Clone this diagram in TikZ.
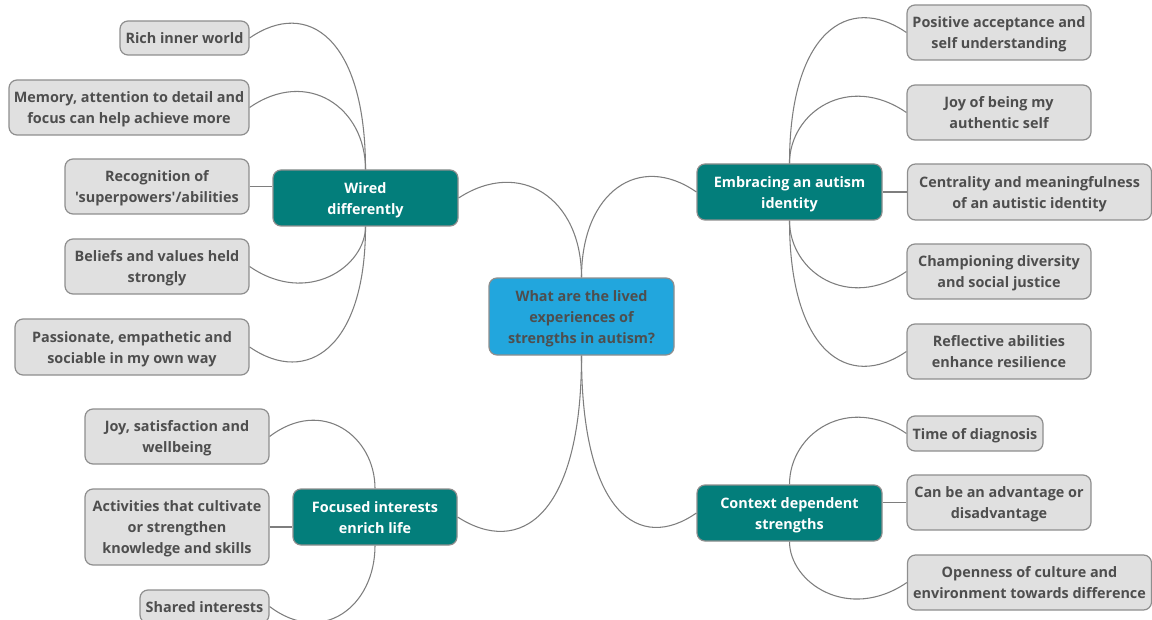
\documentclass[tikz,border=0pt]{standalone}
\usepackage{fontspec}
\setmainfont{Open Sans}[Ligatures=TeXOff]
\usetikzlibrary{calc}
\definecolor{teal1}{HTML}{037E7B}
\definecolor{sky}{HTML}{22A6DD}
\definecolor{leaffill}{HTML}{E0E0E0}
\definecolor{bordergray}{HTML}{8E8E8E}
\definecolor{linegray}{HTML}{7E7E7E}
\definecolor{txtgray}{HTML}{4E4E4E}
\newcommand\mltext[1]{\raisebox{-1.1pt}[\height][\depth]{\begin{tabular}{@{}c@{}}#1\end{tabular}}}
\tikzset{
  base/.style={draw=bordergray, line width=0.9pt, rounded corners=6pt, inner sep=0pt,
    font=\fontsize{10.8pt}{15.75pt}\selectfont\bfseries},
  wh/.style 2 args={minimum width=#1*0.75pt, minimum height=#2*0.75pt},
  leaf/.style={base, fill=leaffill, text=txtgray},
  mainb/.style={base, fill=teal1, text=white},
  root/.style={base, fill=sky, text=txtgray},
  conn/.style={draw=linegray, line width=0.8pt},
}
\newcommand\myconnup[2]{\draw[conn] let \p1=(#1), \p2=(#2) in (\p1) .. controls ({0.5*\x1+0.5*\x2},{\y1+30pt}) and (\x2,\y1) .. (\p2);}
\newcommand\myconndown[2]{\draw[conn] let \p1=(#1), \p2=(#2) in (\p1) .. controls ({0.5*\x1+0.5*\x2},{\y1-30pt}) and (\x2,\y1) .. (\p2);}
\newcommand\myconnhor[2]{\draw[conn] (#1) -- (#1 -| #2);}
\begin{document}
\begin{tikzpicture}[x=0.75pt,y=-0.75pt]
\useasboundingbox (0,0) rectangle (1152,620);
% main nodes
\node[root, wh={185}{77}] (root) at (581.5,316.5) {\mltext{What are the lived\\experiences of\\strengths in autism?}};
\node[mainb, wh={185}{56}] (wired) at (365.5,198) {\mltext{Wired\\differently}};
\node[mainb, wh={185}{56}] (embr) at (789.5,192) {\mltext{Embracing an autism\\identity}};
\node[mainb, wh={164}{56}] (focus) at (375,517) {\mltext{Focused interests\\enrich life}};
\node[mainb, wh={185}{56}] (context) at (789.5,513) {\mltext{Context dependent\\strengths}};
% left leaves
\node[leaf, wh={129}{34}] (rich) at (184.5,38) {\mltext{Rich inner world}};
\node[leaf, wh={240}{55}] (memory) at (129,107.5) {\mltext{Memory, attention to detail and\\focus can help achieve more}};
\node[leaf, wh={184}{55}] (recog) at (157,186.5) {\mltext{Recognition of\\'superpowers'/abilities}};
\node[leaf, wh={184}{55}] (beliefs) at (157,266.5) {\mltext{Beliefs and values held\\strongly}};
\node[leaf, wh={234}{56}] (passion) at (132,347) {\mltext{Passionate, empathetic and\\sociable in my own way}};
\node[leaf, wh={184}{55}] (joy) at (177,436.5) {\mltext{Joy, satisfaction and\\wellbeing}};
\node[leaf, wh={184}{76}] (activ) at (177,527) {\mltext{Activities that cultivate\\or strengthen\\knowledge and skills}};
\node[leaf, wh={129}{33}] (shared) at (204.5,606.5) {\mltext{Shared interests}};
% right leaves
\node[leaf, wh={184}{55}] (posit) at (999,32.5) {\mltext{Positive acceptance and\\self understanding}};
\node[leaf, wh={184}{55}] (authentic) at (999,112.5) {\mltext{Joy of being my\\authentic self}};
\node[leaf, wh={244}{56}] (central) at (1029.5,192) {\mltext{Centrality and meaningfulness\\of an autistic identity}};
\node[leaf, wh={184}{55}] (champ) at (999,271.5) {\mltext{Championing diversity\\and social justice}};
\node[leaf, wh={184}{55}] (reflect) at (999,351.5) {\mltext{Reflective abilities\\enhance resilience}};
\node[leaf, wh={136}{35}] (time) at (975,433.5) {\mltext{Time of diagnosis}};
\node[leaf, wh={184}{55}] (canbe) at (999,502.5) {\mltext{Can be an advantage or\\disadvantage}};
\node[leaf, wh={244}{55}] (open) at (1029.5,582.5) {\mltext{Openness of culture and\\environment towards difference}};
% connectors
\myconnup{wired.east}{root.north}
\myconnup{embr.west}{root.north}
\myconndown{focus.east}{root.south}
\myconndown{context.west}{root.south}
\myconnup{rich.east}{wired.north}
\myconnup{memory.east}{wired.north}
\myconnhor{recog.east}{wired.west}
\myconndown{beliefs.east}{wired.south}
\myconndown{passion.east}{wired.south}
\myconnup{joy.east}{focus.north}
\myconnhor{activ.east}{focus.west}
\myconndown{shared.east}{focus.south}
\myconnup{posit.west}{embr.north}
\myconnup{authentic.west}{embr.north}
\myconnhor{central.west}{embr.east}
\myconndown{champ.west}{embr.south}
\myconndown{reflect.west}{embr.south}
\myconnup{time.west}{context.north}
\myconnhor{canbe.west}{context.east}
\myconndown{open.west}{context.south}
\end{tikzpicture}
\end{document}
